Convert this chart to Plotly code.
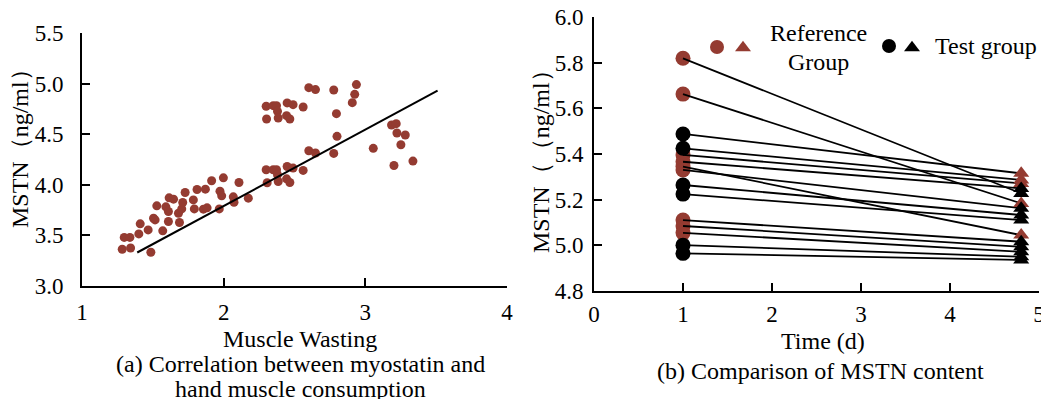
import plotly.graph_objects as go

W, H = 1041, 399
FONT = "Liberation Serif, Times New Roman, serif"
BROWN = "#943B31"

# ---------------- Panel (a): correlation ----------------
wasting = [1.284, 1.298, 1.338, 1.343, 1.401, 1.411, 1.467, 1.486, 1.505, 1.516, 1.528, 1.570, 1.592,
           1.610, 1.610, 1.615, 1.646, 1.681, 1.688, 1.704, 1.711, 1.728, 1.786, 1.793, 1.812, 1.857,
           1.871, 1.883, 1.915, 1.969, 1.974, 1.986, 1.998, 2.068, 2.073, 2.108, 2.174,
           2.300, 2.303, 2.300, 2.307, 2.350, 2.373, 2.380, 2.385, 2.350, 2.373, 2.380, 2.385,
           2.448, 2.444, 2.467, 2.490, 2.448, 2.444, 2.467, 2.490, 2.561, 2.561,
           2.601, 2.648, 2.601, 2.648, 2.777, 2.796, 2.777, 2.800, 2.908, 2.925, 2.937, 3.056,
           3.185, 3.218, 3.223, 3.202, 3.251, 3.282, 3.336]
mstn_a = [3.363, 3.480, 3.480, 3.376, 3.515, 3.614, 3.554, 3.333, 3.670, 3.653, 3.792, 3.545, 3.782,
          3.736, 3.637, 3.871, 3.858, 3.719, 3.627, 3.762, 3.825, 3.924, 3.851, 3.762, 3.954, 3.759,
          3.957, 3.772, 4.040, 3.762, 3.937, 3.891, 4.069, 3.881, 3.828, 4.023, 3.868,
          4.776, 4.650, 4.149, 4.020, 4.782, 4.782, 4.726, 4.660, 4.149, 4.149, 4.099, 4.033,
          4.809, 4.683, 4.650, 4.792, 4.181, 4.059, 4.023, 4.165, 4.769, 4.142,
          4.960, 4.941, 4.337, 4.314, 4.937, 4.703, 4.310, 4.479, 4.812, 4.894, 4.990, 4.360,
          4.591, 4.604, 4.512, 4.191, 4.396, 4.492, 4.234]
fit_x = [1.39, 3.51]
fit_slope = 0.754
fit_intercept = 2.283
fit_y = [fit_intercept + fit_slope * v for v in fit_x]

# ---------------- Panel (b): MSTN over time ----------------
day_first = 1.0
day_last = 4.8
start_vals = [5.820, 5.663, 5.488, 5.425, 5.396, 5.366, 5.345, 5.330, 5.264, 5.224, 5.110, 5.084, 5.054, 5.000, 4.964]
start_group = ["R", "R", "T", "T", "R", "R", "R", "R", "T", "T", "R", "R", "R", "T", "T"]
end_vals = [5.227, 5.183, 5.315, 5.286, 5.271, 5.249, 5.044, 5.162, 5.132, 5.110, 5.015, 4.993, 4.971, 4.949, 4.935]
end_group = ["T", "R", "R", "R", "R", "T", "R", "T", "T", "T", "T", "T", "T", "T", "T"]

fig = go.Figure()

fig.add_trace(go.Scatter(x=wasting, y=mstn_a, mode="markers", xaxis="x", yaxis="y",
                         marker=dict(color=BROWN, size=9, line=dict(width=0)), showlegend=False))
fig.add_trace(go.Scatter(x=fit_x, y=fit_y, mode="lines", xaxis="x", yaxis="y",
                         line=dict(color="black", width=2), showlegend=False))

# circles (day 1)
for grp, col in (("R", BROWN), ("T", "black")):
    ys = [v for v, g in zip(start_vals, start_group) if g == grp]
    fig.add_trace(go.Scatter(x=[day_first] * len(ys), y=ys, mode="markers", xaxis="x2", yaxis="y2",
                             marker=dict(color=col, size=15, symbol="circle", line=dict(width=0)),
                             showlegend=False))
# connecting lines
lx, ly = [], []
for a, b in zip(start_vals, end_vals):
    lx += [day_first, day_last, None]
    ly += [a, b, None]
fig.add_trace(go.Scatter(x=lx, y=ly, mode="lines", xaxis="x2", yaxis="y2",
                         line=dict(color="black", width=1.8), showlegend=False))
# triangles (last day)
for grp, col in (("R", BROWN), ("T", "black")):
    ys = [v for v, g in zip(end_vals, end_group) if g == grp]
    fig.add_trace(go.Scatter(x=[day_last] * len(ys), y=ys, mode="markers", xaxis="x2", yaxis="y2",
                             marker=dict(color=col, size=14, symbol="triangle-up", line=dict(width=0)),
                             showlegend=False))


def px_x(p):
    return p / W


def px_y(p):
    return 1 - p / H


axis_common = dict(showgrid=False, zeroline=False, showline=True, linecolor="black", linewidth=1.8,
                   ticks="inside", ticklen=8, tickwidth=1.8, tickcolor="black", automargin=False,
                   tickfont=dict(family=FONT, size=23, color="black"), mirror=False)

fig.update_layout(
    width=W, height=H, margin=dict(l=0, r=0, t=0, b=0, autoexpand=False),
    paper_bgcolor="white", plot_bgcolor="white", showlegend=False,
    xaxis=dict(axis_common, domain=[px_x(82), px_x(507)], range=[1, 4], tickvals=[1, 2, 3, 4],
               anchor="y", ticklabelstandoff=4),
    yaxis=dict(axis_common, domain=[px_y(286), px_y(33)], range=[3, 5.5],
               tickvals=[3.0, 3.5, 4.0, 4.5, 5.0, 5.5], ticktext=["3.0", "3.5", "4.0", "4.5", "5.0", "5.5"],
               anchor="x", ticklabelstandoff=12),
    xaxis2=dict(axis_common, domain=[px_x(594), px_x(1039)], range=[0, 5], tickvals=[0, 1, 2, 3, 4, 5],
                anchor="y2", ticklabelstandoff=2, ticklabeloverflow="allow"),
    yaxis2=dict(axis_common, domain=[px_y(290.7), px_y(17.3)], range=[4.8, 6.0],
                tickvals=[4.8, 5.0, 5.2, 5.4, 5.6, 5.8, 6.0],
                ticktext=["4.8", "5.0", "5.2", "5.4", "5.6", "5.8", "6.0"],
                anchor="x2", ticklabelstandoff=4),
)

tfont = dict(family=FONT, size=24, color="black")
ann = [
    dict(text="Muscle Wasting", x=px_x(300), y=px_y(339)),
    dict(text="(a) Correlation between myostatin and", x=px_x(300), y=px_y(364)),
    dict(text="hand muscle consumption", x=px_x(300), y=px_y(389)),
    dict(text="MSTN（ng/ml）", x=px_x(20), y=px_y(143), textangle=-90),
    dict(text="Time (d)", x=px_x(823), y=px_y(341)),
    dict(text="(b) Comparison of MSTN content", x=px_x(820), y=px_y(371)),
    dict(text="MSTN（（ng/ml）", x=px_x(541), y=px_y(156), textangle=-90),
    dict(text="Reference", x=px_x(818), y=px_y(33)),
    dict(text="Group", x=px_x(818), y=px_y(62)),
    dict(text="Test group", x=px_x(933), y=px_y(46), xanchor="left"),
]
for a in ann:
    a.setdefault("xanchor", "center")
    fig.add_annotation(xref="paper", yref="paper", yanchor="middle", showarrow=False,
                       font=tfont, **a)

# legend keys (drawn as pixel-sized shapes)
def circle_key(cx, cy, d, col):
    fig.add_shape(type="circle", xref="paper", yref="paper", xsizemode="pixel", ysizemode="pixel",
                  xanchor=px_x(cx), yanchor=px_y(cy), x0=-d / 2, x1=d / 2, y0=-d / 2, y1=d / 2,
                  fillcolor=col, line=dict(width=0))


def tri_key(cx, cy, w, col):
    h = w * 0.65
    path = f"M{-w/2},{-h/2} L{w/2},{-h/2} L0,{h/2} Z"
    fig.add_shape(type="path", xref="paper", yref="paper", xsizemode="pixel", ysizemode="pixel",
                  xanchor=px_x(cx), yanchor=px_y(cy), path=path, fillcolor=col, line=dict(width=0))


circle_key(717, 47, 14, BROWN)
tri_key(743, 46, 16, BROWN)
circle_key(889, 46, 14, "black")
tri_key(912, 46, 16, "black")

fig.write_html("out.html", config={"displayModeBar": False},
               post_script="document.body.style.margin='0';document.body.style.overflow='hidden';")
